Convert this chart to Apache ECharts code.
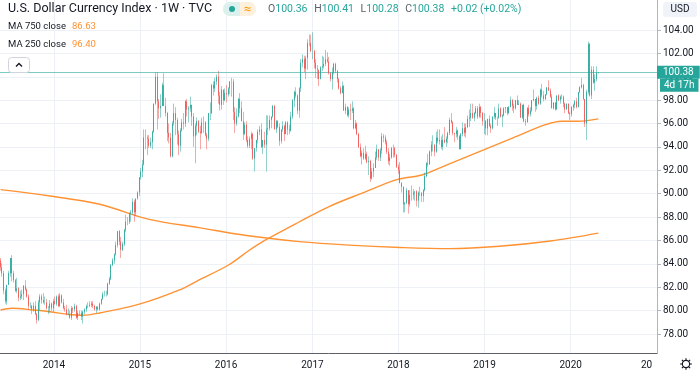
<!DOCTYPE html>
<html><head><meta charset="utf-8">
<script src="https://cdn.jsdelivr.net/npm/echarts@6/dist/echarts.min.js"></script>
<style>html,body{margin:0;padding:0;background:#fff}#c{width:700px;height:372px}</style>
</head><body><div id="c"></div>
<script>
// ---------- DATA ----------
// Weekly candles, first week starting Monday 2013-05-20, one row per calendar year
const firstWeek = '2013-05-20';
const open = [
84.28,83.70,83.20,81.70,80.80,82.20,83.20,84.50,83.20,82.60,81.70,81.90,81.10,81.20,81.40,82.10,81.80,81.20,80.40,80.40,80.10,80.40,79.70,79.20,80.70,81.20,80.90,80.70,80.70,80.20,80.20,80.60,80.20,
80.80,80.60,81.20,80.40,81.30,80.70,80.20,80.10,79.70,79.70,79.40,80.20,80.10,80.40,79.40,79.80,79.80,79.50,79.90,80.10,80.40,80.40,80.50,80.60,80.40,80.10,80.30,80.10,80.60,81.00,81.40,81.40,81.40,82.30,82.70,83.90,84.30,84.80,85.60,86.80,85.90,85.20,85.70,86.90,87.60,87.60,88.30,88.40,89.30,88.40,89.60,90.10,
91.40,91.90,92.50,94.80,94.80,94.70,94.10,94.40,95.30,97.70,100.00,97.90,97.30,97.50,99.30,97.50,96.90,95.20,94.80,93.20,96.00,96.90,96.30,95.10,94.10,95.40,96.10,96.00,97.90,97.20,97.30,97.60,96.60,94.90,95.80,96.20,95.30,95.20,96.10,96.10,95.00,94.70,96.90,96.90,99.30,99.00,99.60,100.00,98.40,97.60,98.90,98.00,
98.60,98.50,99.00,99.60,99.60,97.00,96.00,96.60,98.10,97.30,96.20,95.10,95.90,94.60,94.10,94.70,95.10,93.00,93.90,94.60,95.30,95.50,94.00,94.60,94.20,95.50,95.60,96.30,96.60,97.50,95.50,96.20,95.70,94.50,95.50,95.80,95.10,96.10,95.50,95.40,96.60,98.00,98.70,98.40,97.10,99.00,101.20,101.50,100.70,101.60,102.90,102.90,
102.20,102.20,101.20,100.70,100.60,99.80,100.80,100.90,101.10,101.50,101.30,100.30,99.80,100.40,101.10,100.50,99.80,99.00,98.60,99.20,97.10,97.40,96.70,97.20,97.10,97.30,95.60,96.00,95.10,94.00,93.20,93.50,93.00,93.40,92.70,92.80,91.30,91.90,92.20,93.10,93.80,93.10,93.70,94.90,94.80,94.40,93.60,92.80,93.10,93.90,93.90,93.30,
92.30,92.00,90.90,90.60,89.10,89.20,90.30,89.10,89.90,89.90,90.10,90.20,89.40,90.10,90.10,89.80,90.30,91.50,92.60,92.50,93.60,94.20,94.20,93.60,94.80,94.50,94.60,94.00,94.60,94.40,94.70,95.20,96.30,96.10,95.20,95.10,95.40,94.90,93.80,95.10,95.60,95.20,95.70,96.40,96.50,96.90,96.50,96.90,97.30,96.60,97.40,96.90,
96.20,96.20,95.60,96.40,95.80,95.60,96.60,96.90,96.50,96.50,97.30,96.60,96.70,97.30,97.40,96.90,97.40,98.00,97.50,97.30,98.00,97.60,97.70,96.50,97.60,96.20,96.10,97.30,96.80,97.10,98.00,98.10,97.50,98.20,97.70,98.90,98.40,98.10,98.50,99.10,98.80,98.30,97.30,97.80,97.20,98.40,98.00,98.30,98.30,97.70,97.20,97.70,96.90,
96.80,97.40,97.60,97.90,97.40,98.70,99.10,99.30,98.10,96.00,98.70,102.80,98.40,100.60,99.50,99.80,100.36
];
const high = [
84.50,84.05,83.40,81.90,82.20,83.40,84.50,84.75,83.40,82.70,82.80,82.00,81.70,81.80,82.20,82.60,81.90,81.40,80.70,80.50,80.70,80.80,79.80,80.90,81.40,81.40,81.50,81.20,81.00,80.40,80.90,80.70,81.00,
81.20,81.30,81.40,81.50,81.40,81.00,80.40,80.50,80.20,80.00,80.40,80.30,80.60,80.50,80.00,80.00,80.00,80.00,80.20,80.50,80.70,80.80,80.80,80.80,80.50,80.40,80.40,80.70,81.00,81.60,81.70,81.70,82.40,82.90,84.00,84.50,84.90,85.90,86.80,86.90,86.30,85.90,87.00,88.20,88.00,88.40,88.60,89.60,89.50,89.50,90.20,91.40,
92.20,92.90,95.50,95.50,95.00,95.00,94.80,95.40,97.70,100.40,100.40,98.10,98.50,99.50,100.30,98.20,97.00,96.00,95.20,96.20,97.70,97.40,96.50,95.40,95.60,96.40,96.90,98.00,98.10,97.50,98.30,97.60,96.90,96.00,96.50,96.30,95.80,96.50,96.60,96.20,95.20,96.90,97.80,99.40,99.60,99.90,100.20,100.50,98.70,99.20,98.90,99.00,
99.30,99.10,99.60,99.90,99.80,97.40,97.30,98.20,98.60,97.90,97.00,96.10,96.20,94.90,94.90,95.30,95.20,93.90,94.60,95.50,95.80,96.00,94.60,95.30,96.70,96.70,96.70,96.60,97.60,97.60,96.30,96.30,96.00,95.50,96.20,95.90,96.20,96.20,95.90,97.00,98.10,98.80,99.10,98.50,99.10,101.50,101.90,101.80,101.80,103.20,103.60,103.60,
103.80,102.30,101.50,101.00,100.60,100.90,101.80,101.70,102.30,102.10,101.70,100.40,100.80,101.20,101.20,100.60,99.90,99.20,99.60,99.30,97.70,97.50,97.40,97.70,97.90,97.40,96.30,96.10,95.20,94.30,93.70,93.90,94.10,93.60,93.20,92.90,92.20,92.60,93.60,94.20,93.80,93.90,95.20,95.10,95.00,94.60,93.90,93.40,94.00,94.20,94.00,93.40,
92.50,92.70,91.00,90.60,89.30,90.50,90.30,90.30,90.70,90.40,90.20,90.30,90.20,90.60,90.10,90.40,91.80,92.70,93.40,93.70,94.50,95.00,94.20,95.30,95.50,95.50,94.90,95.10,95.70,94.90,95.30,96.50,96.90,96.20,95.20,95.70,95.50,95.00,95.20,96.10,96.00,96.00,96.70,97.20,97.70,97.70,97.00,97.50,97.50,97.70,97.50,97.00,
96.90,96.30,96.40,96.70,96.00,96.60,97.40,96.90,96.60,97.70,97.40,96.80,97.40,97.40,97.40,97.50,98.30,98.10,97.70,98.00,98.40,98.00,97.80,97.60,97.70,96.40,97.40,97.60,97.40,98.00,98.90,98.10,98.30,98.40,99.00,99.40,98.80,98.50,99.10,99.70,99.00,98.50,97.80,97.80,98.40,98.50,98.40,98.50,98.40,97.80,97.70,97.70,97.00,
97.50,97.70,98.00,98.20,98.70,99.20,99.90,99.40,98.10,98.90,103.00,102.90,100.90,100.90,100.20,100.90,100.41
];
const low = [
83.40,82.90,81.40,80.60,80.50,82.20,82.90,82.50,82.40,81.60,81.50,80.80,80.90,81.00,80.90,81.70,81.10,80.10,80.20,79.70,79.90,79.60,78.90,79.10,80.00,80.60,80.60,80.50,80.10,79.70,79.80,80.00,79.90,
80.50,80.40,80.30,80.30,80.60,80.10,79.90,79.60,79.60,79.30,79.20,79.80,79.90,79.30,79.20,79.60,79.20,78.90,79.70,79.90,80.20,80.30,80.30,80.20,80.00,79.80,80.00,80.00,80.50,80.90,81.20,81.20,81.30,82.20,82.60,83.80,84.00,84.70,85.40,85.60,84.50,85.10,85.50,86.70,87.30,87.40,87.60,88.20,87.60,88.10,89.50,89.80,
91.20,91.40,92.40,93.80,93.30,93.90,93.90,93.80,95.20,97.60,95.50,96.40,96.50,97.50,97.50,96.60,94.50,94.30,93.10,93.10,95.80,95.00,94.20,93.30,93.60,95.30,95.50,95.70,96.60,96.10,97.00,95.80,94.00,92.60,95.00,95.20,93.80,95.10,95.20,94.90,93.80,94.50,96.30,96.80,98.40,98.70,99.30,97.70,97.10,97.20,97.60,97.90,
97.80,98.30,98.50,98.30,96.30,95.20,95.80,96.50,96.90,96.20,94.60,95.00,94.40,93.90,93.90,93.80,92.90,91.90,93.60,94.30,95.00,93.90,93.40,93.90,91.90,95.00,95.40,95.60,96.50,95.50,95.20,95.60,94.10,94.30,95.30,94.50,95.10,95.00,95.10,95.30,96.40,97.40,98.20,96.80,96.50,98.70,100.80,100.40,99.80,100.60,102.60,102.10,
101.50,100.70,99.90,99.80,99.20,99.80,100.50,100.70,100.90,101.20,100.20,99.60,98.90,100.20,100.30,99.50,98.90,98.50,98.60,97.10,96.80,96.60,96.50,96.30,96.90,95.50,95.50,95.00,93.90,93.10,92.50,92.90,92.90,92.60,91.60,91.00,91.20,91.40,92.20,92.90,92.80,92.80,93.40,94.40,94.20,93.40,92.50,92.40,93.00,93.10,93.10,92.20,
91.70,90.90,90.10,88.40,88.40,89.10,88.30,88.90,89.40,89.50,89.40,88.90,88.80,89.80,89.30,89.30,90.20,91.40,92.30,92.50,93.20,93.60,93.20,93.50,94.30,94.20,93.80,93.70,94.30,94.00,94.30,95.00,96.00,95.00,94.40,94.80,94.60,93.80,93.80,94.90,94.90,94.80,95.60,95.70,96.20,96.40,96.20,96.80,96.40,96.50,96.50,95.80,
95.10,95.00,95.00,95.70,95.20,95.50,96.40,96.30,95.80,96.40,96.50,95.70,96.60,96.90,96.70,96.80,97.40,97.10,96.90,97.20,97.60,97.60,96.50,96.40,96.10,95.80,96.10,96.60,96.60,97.00,97.90,97.00,97.20,97.60,97.60,98.20,97.90,98.00,98.40,98.80,98.20,97.30,97.20,97.10,97.20,97.90,97.70,98.10,97.40,96.90,97.20,96.80,96.30,
96.60,97.10,97.30,97.30,97.40,98.60,99.00,98.00,95.70,94.60,98.50,98.30,98.10,99.40,98.80,99.60,100.28
];
const close = [
83.70,83.20,81.70,80.80,82.20,83.20,84.50,83.20,82.60,81.70,81.90,81.10,81.20,81.40,82.10,81.80,81.20,80.40,80.40,80.10,80.40,79.70,79.20,80.70,81.20,80.90,80.70,80.70,80.20,80.20,80.60,80.20,80.80,
80.60,81.20,80.40,81.30,80.70,80.20,80.10,79.70,79.70,79.40,80.20,80.10,80.40,79.40,79.80,79.80,79.50,79.90,80.10,80.40,80.40,80.50,80.60,80.40,80.10,80.30,80.10,80.60,81.00,81.40,81.40,81.40,82.30,82.70,83.90,84.30,84.80,85.60,86.80,85.90,85.20,85.70,86.90,87.60,87.60,88.30,88.40,89.30,88.40,89.60,90.10,91.40,
91.90,92.50,94.80,94.80,94.70,94.10,94.40,95.30,97.70,100.00,97.90,97.30,97.50,99.30,97.50,96.90,95.20,94.80,93.20,96.00,96.90,96.30,95.10,94.10,95.40,96.10,96.00,97.90,97.20,97.30,97.60,96.60,94.90,95.80,96.20,95.30,95.20,96.10,96.10,95.00,94.70,96.90,96.90,99.30,99.00,99.60,100.00,98.40,97.60,98.90,98.00,98.60,
98.50,99.00,99.60,99.60,97.00,96.00,96.60,98.10,97.30,96.20,95.10,95.90,94.60,94.10,94.70,95.10,93.00,93.90,94.60,95.30,95.50,94.00,94.60,94.20,95.50,95.60,96.30,96.60,97.50,95.50,96.20,95.70,94.50,95.50,95.80,95.10,96.10,95.50,95.40,96.60,98.00,98.70,98.40,97.10,99.00,101.20,101.50,100.70,101.60,102.90,102.90,102.20,
102.20,101.20,100.70,100.60,99.80,100.80,100.90,101.10,101.50,101.30,100.30,99.80,100.40,101.10,100.50,99.80,99.00,98.60,99.20,97.10,97.40,96.70,97.20,97.10,97.30,95.60,96.00,95.10,94.00,93.20,93.50,93.00,93.40,92.70,92.80,91.30,91.90,92.20,93.10,93.80,93.10,93.70,94.90,94.80,94.40,93.60,92.80,93.10,93.90,93.90,93.30,92.30,
92.00,90.90,90.60,89.10,89.20,90.30,89.10,89.90,89.90,90.10,90.20,89.40,90.10,90.10,89.80,90.30,91.50,92.60,92.50,93.60,94.20,94.20,93.60,94.80,94.50,94.60,94.00,94.60,94.40,94.70,95.20,96.30,96.10,95.20,95.10,95.40,94.90,93.80,95.10,95.60,95.20,95.70,96.40,96.50,96.90,96.50,96.90,97.30,96.60,97.40,96.90,96.20,
96.20,95.60,96.40,95.80,95.60,96.60,96.90,96.50,96.50,97.30,96.60,96.70,97.30,97.40,96.90,97.40,98.00,97.50,97.30,98.00,97.60,97.70,96.50,97.60,96.20,96.10,97.30,96.80,97.10,98.00,98.10,97.50,98.20,97.70,98.90,98.40,98.10,98.50,99.10,98.80,98.30,97.30,97.80,97.20,98.40,98.00,98.30,98.30,97.70,97.20,97.70,96.90,96.80,
97.40,97.60,97.90,97.40,98.70,99.10,99.30,98.10,96.00,98.70,102.80,98.40,100.60,99.50,99.80,100.36,100.38
];

// Moving averages
const ma750Dates = ['2013-05-20','2013-12-16','2014-07-14','2015-02-09','2015-09-07','2016-04-04','2016-11-07','2017-06-05','2018-01-08','2018-08-06','2019-03-04','2019-10-07','2020-04-27'];
const ma750Values = [90.35,89.80,89.10,87.80,87.10,86.40,85.90,85.60,85.40,85.30,85.50,85.95,86.63];
const ma250Dates = ['2013-05-20','2013-07-08','2013-10-07','2013-12-16','2014-02-24','2014-05-05','2014-07-14','2014-12-29','2015-06-15','2015-09-07','2016-01-11','2016-04-04','2016-06-13','2016-11-07','2017-03-13','2017-07-31','2017-12-25','2018-04-09','2018-07-23','2018-12-10','2019-04-29','2019-09-16','2019-11-25','2020-02-03','2020-04-27'];
const ma250Values = [80.05,80.20,80.05,79.90,79.70,79.60,79.80,80.55,81.75,82.60,83.90,85.10,86.00,87.60,88.90,90.05,91.20,91.60,92.45,93.60,94.75,95.90,96.20,96.20,96.40];

// Axis tick labels
const priceTicks = [78,80,82,84,86,88,90,92,94,96,98,100,102,104];
const yearTicks = ['2014-01-01','2015-01-01','2016-01-01','2017-01-01','2018-01-01','2019-01-01','2020-01-01','2021-01-01'];

// Texts
const titleText = 'U.S. Dollar Currency Index · 1W · TVC';
const countdown = '4d 17h';
const currency = 'USD';

// ---------- CHART ----------
const DAY = 86400000;
const t0 = Date.parse(firstWeek);
const weeks = close.map((_, i) => t0 + i * 7 * DAY);
const candleData = weeks.map((t, i) => [t, open[i], close[i], low[i], high[i]]);
const bodyData = weeks.map((t, i) => [t, open[i], close[i], Math.min(open[i], close[i]), Math.max(open[i], close[i])]);
const ma750 = ma750Dates.map((d, i) => [Date.parse(d), ma750Values[i]]);
const ma250 = ma250Dates.map((d, i) => [Date.parse(d), ma250Values[i]]);
const yearTs = yearTicks.map(d => Date.parse(d));
const L = close.length - 1;
const lastClose = close[L];
const chg = close[L] - close[L - 1];
const pct = chg / close[L - 1] * 100;
const sgn = v => (v >= 0 ? '+' : '') + v.toFixed(2);

const FONT = 'Roboto, "Noto Sans", sans-serif';
const UP = '#26a69a', DN = '#ef5350', MA = '#ff9233';

const chart = echarts.init(document.getElementById('c'));
chart.setOption({
  animation: false,
  backgroundColor: '#ffffff',
  textStyle: { fontFamily: FONT },
  grid: { left: 0, right: 43, top: 0, bottom: 19, containLabel: false },
  xAxis: {
    type: 'value',
    min: Date.UTC(2013, 4, 17, 12),
    max: Date.UTC(2021, 0, 1),
    axisLine: { show: true, onZero: false, lineStyle: { color: '#5d606b', width: 1 } },
    axisTick: { show: false, customValues: yearTs },
    splitLine: { show: true, lineStyle: { color: '#edf0f5', width: 1 } },
    axisLabel: {
      customValues: yearTs,
      showMinLabel: true, showMaxLabel: true, hideOverlap: false,
      color: '#131722', fontSize: 10, fontFamily: FONT, margin: 7,
      formatter: function (v) {
        const y = new Date(v).getUTCFullYear();
        return y === 2021 ? '{cut|' + String(y).slice(0, 2) + '}' : String(y);
      },
      rich: { cut: { fontSize: 10, color: '#131722', fontFamily: FONT, padding: [0, 21, 0, 0] } }
    }
  },
  yAxis: {
    type: 'value',
    position: 'right',
    min: 76.375,
    max: 106.566,
    axisLine: { show: true, lineStyle: { color: '#b2b5be', width: 1 } },
    axisTick: { show: true, inside: false, length: 4, customValues: priceTicks, lineStyle: { color: '#b2b5be' } },
    splitLine: { show: true, lineStyle: { color: '#edf0f5', width: 1 } },
    axisLabel: {
      customValues: priceTicks,
      color: '#131722', fontSize: 10, fontFamily: FONT, margin: 6,
      formatter: v => v.toFixed(2)
    }
  },
  series: [
    {
      name: 'MA 750', type: 'line', data: ma750, showSymbol: false, smooth: 0.35, z: 3,
      lineStyle: { color: MA, width: 1.4 }, silent: true
    },
    {
      name: 'MA 250', type: 'line', data: ma250, showSymbol: false, smooth: 0.35, z: 3,
      lineStyle: { color: MA, width: 1.4 }, silent: true
    },
    {
      name: 'wicks', type: 'candlestick', data: candleData, encode: { x: 0, y: [1, 2, 3, 4] },
      barWidth: 0.4, z: 4, silent: true,
      itemStyle: {
        color: 'rgba(38,166,154,0.5)', color0: 'rgba(239,83,80,0.5)',
        borderColor: 'rgba(38,166,154,0.5)', borderColor0: 'rgba(239,83,80,0.5)', borderWidth: 1
      }
    },
    {
      name: 'bodies', type: 'candlestick', data: bodyData, encode: { x: 0, y: [1, 2, 3, 4] },
      barWidth: 1.2, z: 5, silent: true,
      itemStyle: { color: UP, color0: DN, borderColor: UP, borderColor0: DN, borderWidth: 0.8 },
      markLine: {
        silent: true, symbol: ['none', 'none'], animation: false,
        lineStyle: { color: 'rgba(38,166,154,0.6)', type: 'solid', width: 1 },
        data: [{ yAxis: lastClose }],
        label: {
          show: true, position: 'end', distance: 0,
          padding: [13, 0, 0, 0],
          formatter: '{p|' + lastClose.toFixed(2) + '}\n{s| }{t|' + countdown + '}',
          rich: {
            p: { backgroundColor: UP, color: '#fff', fontSize: 10, fontFamily: FONT, padding: [2, 6, 1, 6], lineHeight: 13 },
            s: { fontSize: 10, width: 3, lineHeight: 13 },
            t: { backgroundColor: UP, color: '#fff', fontSize: 10, fontFamily: FONT, padding: [2, 4, 1, 4], lineHeight: 13 }
          }
        }
      }
    }
  ],
  graphic: [
    { type: 'text', x: 8, y: 9, z: 100, style: { text: titleText, fontSize: 12.5, fontFamily: FONT, fill: '#131722', verticalAlign: 'middle' } },
    { type: 'rect', z: 100, shape: { x: 223, y: 2, width: 33, height: 14, r: 7 }, style: { fill: '#fdf0dc' } },
    { type: 'rect', z: 101, shape: { x: 223, y: 2, width: 17, height: 14, r: [7, 0, 0, 7] }, style: { fill: '#dcf1ee' } },
    { type: 'circle', z: 102, shape: { cx: 232, cy: 9, r: 3 }, style: { fill: UP } },
    { type: 'text', z: 102, x: 247.5, y: 9.5, style: { text: '≈', fontSize: 13, fontFamily: FONT, fill: '#ff9800', align: 'center', verticalAlign: 'middle' } },
    { type: 'text', z: 100, x: 268, y: 9.5, style: {
        text: '{k|O}{v|' + open[L].toFixed(2) + '}  {k|H}{v|' + high[L].toFixed(2) + '}  {k|L}{v|' + low[L].toFixed(2) + '}  {k|C}{v|' + close[L].toFixed(2) + '}  {v|' + sgn(chg) + ' (' + sgn(pct) + '%)}',
        verticalAlign: 'middle',
        rich: { k: { fontSize: 10.5, fontFamily: FONT, fill: '#5d606b' }, v: { fontSize: 10.5, fontFamily: FONT, fill: UP } }
      } },
    { type: 'text', z: 100, x: 8, y: 27, style: { text: 'MA 750 close', fontSize: 9.5, fontFamily: FONT, fill: '#131722', verticalAlign: 'middle' } },
    { type: 'text', z: 100, x: 72, y: 27, style: { text: ma750Values[ma750Values.length - 1].toFixed(2), fontSize: 9.5, fontFamily: FONT, fill: MA, verticalAlign: 'middle' } },
    { type: 'text', z: 100, x: 8, y: 45, style: { text: 'MA 250 close', fontSize: 9.5, fontFamily: FONT, fill: '#131722', verticalAlign: 'middle' } },
    { type: 'text', z: 100, x: 72, y: 45, style: { text: ma250Values[ma250Values.length - 1].toFixed(2), fontSize: 9.5, fontFamily: FONT, fill: MA, verticalAlign: 'middle' } },
    { type: 'rect', z: 100, shape: { x: 8.5, y: 57.5, width: 21, height: 15, r: 3 }, style: { fill: '#ffffff', stroke: '#d1d4dc', lineWidth: 1 } },
    { type: 'polyline', z: 101, shape: { points: [[16, 66.5], [19, 63.5], [22, 66.5]] }, style: { stroke: '#131722', lineWidth: 1.4, fill: null } },
    { type: 'rect', z: 100, shape: { x: 663, y: 2, width: 34, height: 15, r: 3 }, style: { fill: '#f0f3fa' } },
    { type: 'text', z: 101, x: 680, y: 9.5, style: { text: currency, fontSize: 10, fontFamily: FONT, fill: '#131722', align: 'center', verticalAlign: 'middle' } },
    { type: 'group', z: 100, x: 686, y: 364, children: [
      { type: 'circle', shape: { cx: 0, cy: 0, r: 3.6 }, style: { fill: null, stroke: '#131722', lineWidth: 1.1 } },
      { type: 'line', shape: { x1: 0, y1: -3.6, x2: 0, y2: -5.8 }, style: { stroke: '#131722', lineWidth: 1.1 } },
      { type: 'line', shape: { x1: 0, y1: 3.6, x2: 0, y2: 5.8 }, style: { stroke: '#131722', lineWidth: 1.1 } },
      { type: 'line', shape: { x1: -3.6, y1: 0, x2: -5.8, y2: 0 }, style: { stroke: '#131722', lineWidth: 1.1 } },
      { type: 'line', shape: { x1: 3.6, y1: 0, x2: 5.8, y2: 0 }, style: { stroke: '#131722', lineWidth: 1.1 } },
      { type: 'line', shape: { x1: 2.5, y1: 2.5, x2: 4.1, y2: 4.1 }, style: { stroke: '#131722', lineWidth: 1.1 } },
      { type: 'line', shape: { x1: -2.5, y1: 2.5, x2: -4.1, y2: 4.1 }, style: { stroke: '#131722', lineWidth: 1.1 } },
      { type: 'line', shape: { x1: 2.5, y1: -2.5, x2: 4.1, y2: -4.1 }, style: { stroke: '#131722', lineWidth: 1.1 } },
      { type: 'line', shape: { x1: -2.5, y1: -2.5, x2: -4.1, y2: -4.1 }, style: { stroke: '#131722', lineWidth: 1.1 } }
    ] }
  ]
});
</script>
</body></html>
